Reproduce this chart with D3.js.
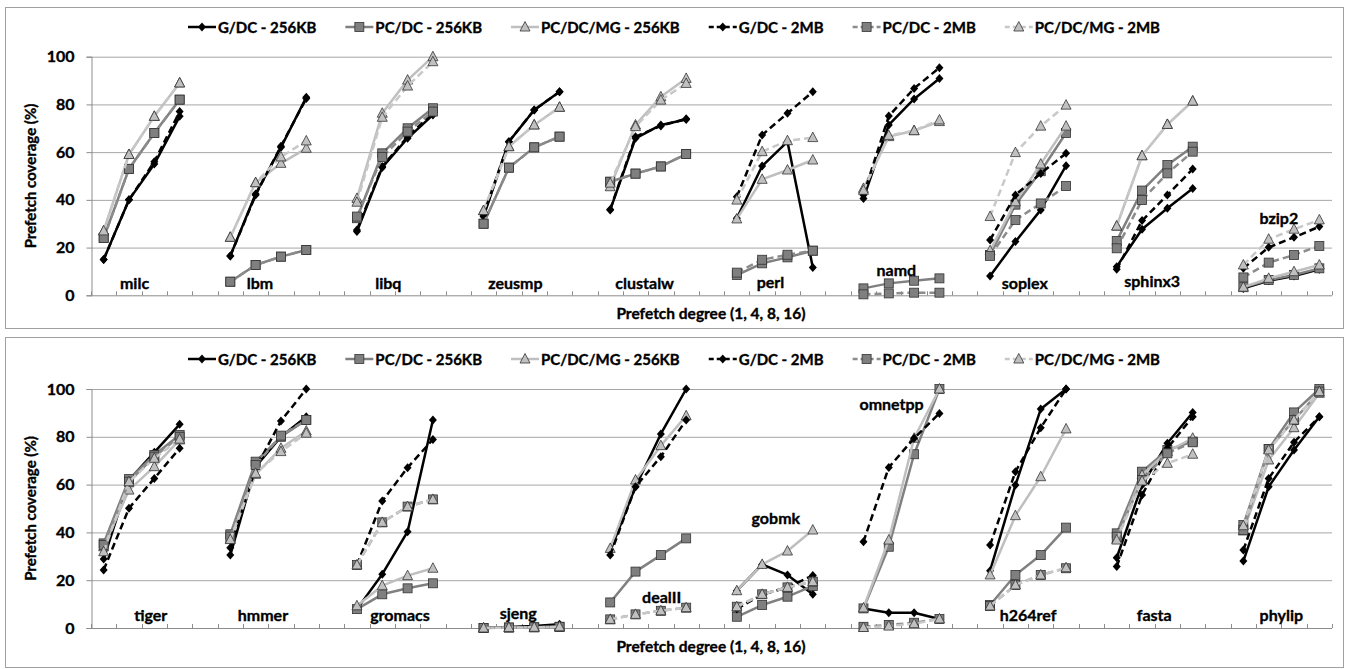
<!DOCTYPE html>
<html lang="en">
<head>
  <meta charset="UTF-8">
  <title>Prefetch coverage</title>
  <script src="https://d3js.org/d3.v7.min.js"></script>
  <style>
    body { margin: 0; background: #fff; }
    svg { font-family: Lato, "Open Sans", sans-serif; font-weight: bold; }
    svg text { stroke: #000; stroke-width: 0.35px; fill: #000; }
  </style>
</head>
<body>
  <svg width="1349" height="669"></svg>
  <script>
    const degrees = [1, 4, 8, 16];
    const seriesNames = ["G/DC - 256KB", "PC/DC - 256KB", "PC/DC/MG - 256KB",
                         "G/DC - 2MB", "PC/DC - 2MB", "PC/DC/MG - 2MB"];
    const yTicks = [0, 20, 40, 60, 80, 100];

    // top panel
    const topBench = ["milc", "lbm", "libq", "zeusmp", "clustalw", "perl", "namd", "soplex", "sphinx3", "bzip2"];
    const topGDC256 = [[15, 40, 55, 75], [16.5, 42.5, 62, 83], [26.7, 53.6, 65.8, 75.6], [33, 64.4, 77.7, 85.3],
      [35.8, 65.8, 71.4, 73.7], [32.3, 54.2, 64.4, 11.7], [40.6, 71.4, 82.3, 90.9], [8.1, 22.5, 35.8, 54.3],
      [12, 27.7, 36.5, 44.8], [2.9, 6.1, 8.1, 10.9]];
    const topPCDC256 = [[24, 53, 68, 82], [5.7, 12.7, 16.2, 19], [32.3, 59.5, 70, 78.4], [30, 53.5, 62, 66.5],
      [47.6, 51, 54, 59.2], [8.5, 13.4, 15.9, 18.7], [2.9, 5, 6.1, 7.1], [16.9, 38, 52, 68],
      [22.8, 43.9, 54.6, 62.3], [3.4, 6.4, 8.5, 11.3]];
    const topMG256 = [[27, 59, 75, 89], [24.3, 47.2, 55.3, 61.6], [40.6, 76.3, 90.2, 100], [35.5, 62.3, 71.4, 78.8],
      [45.5, 71.4, 83.2, 90.9], [32, 48.6, 52.5, 56.7], [44.8, 66.5, 69, 72.8], [18.7, 39.2, 55, 70.9],
      [29, 58.5, 71.6, 81.4], [3.4, 7.1, 9.9, 12.7]];
    const topGDC2M = [[15, 40, 56, 77], [16.5, 42, 62.5, 82.5], [27.4, 54, 66.5, 76.3], [33.7, 64.4, 77.7, 85.3],
      [36, 66.5, 71, 74], [41.3, 67.2, 76.3, 85.3], [42, 75.1, 86.7, 95.4], [23.2, 42, 51.1, 59.5],
      [10.9, 31.3, 42, 52.9], [11.3, 20.1, 24.3, 28.8]];
    const topPCDC2M = [[24, 53, 68, 82], [5.7, 12.7, 16.2, 19], [33, 58, 68.6, 77], [30, 53.5, 62, 66.5],
      [47.6, 51, 54, 59.2], [9.5, 14.9, 17, 18.7], [0.4, 0.8, 1.1, 1.1], [16.5, 31.6, 38.5, 45.8],
      [19.7, 39.9, 51.1, 60.2], [7.5, 13.7, 16.9, 20.7]];
    const topMG2M = [[27, 59, 75, 89], [24.3, 47.2, 58, 64.7], [39, 74.6, 87.7, 97.9], [35.5, 62.3, 71.4, 78.8],
      [47, 70.7, 81.8, 88.8], [39.9, 60.2, 64.8, 66.1], [44, 67, 69, 73.5], [33, 59.8, 70.9, 79.7],
      [29, 58.5, 71.6, 81.4], [12.7, 23.5, 27.7, 31.6]];
    // benchmark label anchors: [shift in categories, value]
    const topLabelAt = [[-0.28, 5.2], [-0.33, 5.2], [-0.26, 5.2], [-0.24, 5.2], [-0.14, 5.2],
      [-0.17, 5.7], [-0.2, 11], [-0.13, 5.2], [-0.1, 6], [-0.1, 32.4]];

    // bottom panel
    const botBench = ["tiger", "hmmer", "gromacs", "sjeng", "dealII", "gobmk", "omnetpp", "h264ref", "fasta", "phylip"];
    const botGDC256 = [[28.9, 61.9, 73.5, 85.2], [30.5, 67.5, 80, 88.4], [7.9, 22.5, 40.3, 87], [0, 0.4, 0.8, 1.6],
      [32.2, 59.1, 81.2, 100], [15.6, 26.6, 22.2, 14.1], [8.2, 6.4, 6.4, 3.8], [24, 59.8, 91.6, 100],
      [29.4, 59.8, 77.3, 90.2], [28, 59.1, 74.5, 88.4]];
    const botPCDC256 = [[35.4, 62.3, 72.4, 80.8], [39.2, 69.6, 80, 87], [7.9, 14.1, 16.6, 18.7], [0, 0.2, 0.3, 0.5],
      [10.7, 23.6, 30.5, 37.5], [4.7, 9.6, 13.1, 17.6], [8.2, 34, 72.7, 100], [9.6, 22.2, 30.5, 42],
      [39.6, 65.4, 74.5, 78], [43.1, 74.9, 90.2, 100]];
    const botMG256 = [[34, 57.7, 67.5, 78.7], [37.2, 64.3, 75.2, 82.4], [9.3, 17.7, 21.9, 25], [0, 0.2, 0.3, 0.5],
      [33.3, 61.9, 76.3, 88.8], [15.6, 26.6, 32.2, 41], [8.4, 36.8, 79.4, 100], [22.2, 47, 63.3, 83.3],
      [37.2, 64, 73.8, 79.4], [40.6, 70.3, 83.8, 98.2]];
    const botGDC2M = [[24.3, 50.1, 62.6, 75.2], [33.6, 66.8, 86.6, 100], [26.4, 53.1, 67.1, 78.9], [0, 0.3, 0.5, 1],
      [30.5, 59.1, 71.7, 87], [8, 14, 17, 22], [36.1, 67.2, 79.4, 89.8], [34.7, 65.4, 83.8, 100],
      [25.7, 55.6, 75.2, 88.4], [32.6, 62.6, 77.7, 88.4]];
    const botPCDC2M = [[34.7, 61.2, 71.7, 80], [38.2, 68.2, 80.5, 87], [26.4, 44.2, 50.8, 53.8], [0, 0.2, 0.3, 0.5],
      [3.6, 5.7, 7.2, 8.5], [8.9, 14.1, 17, 19.4], [0.5, 1.3, 2.2, 3.8], [9.2, 18, 22.2, 25],
      [38.2, 61.9, 73.1, 77.7], [41, 74.9, 87, 98.9]];
    const botMG2M = [[31.9, 61.2, 71, 79], [37, 64.7, 73.8, 81.5], [26.4, 44.2, 50.8, 53.8], [0, 0.2, 0.3, 0.5],
      [3.6, 5.7, 7.2, 8.5], [8.9, 14.1, 17, 19.4], [0.2, 0.8, 1.8, 3.8], [9.2, 18, 22.2, 25.2],
      [36.8, 61.5, 68.9, 72.7], [42.8, 74.5, 87, 98.9]];
    const botLabelAt = [[0.36, 5.7], [-0.21, 5.7], [0.2, 5.7], [-0.13, 6.4], [0.53, 13.1],
      [0.04, 46.2], [-0.39, 94], [0, 5.7], [-0.02, 5.7], [0, 5.7]];

    const svg = d3.select("svg");

    const styles = [
      { color: "#000", dash: null, mark: "diamond" },
      { color: "#808080", dash: null, mark: "square" },
      { color: "#bfbfbf", dash: null, mark: "triangle" },
      { color: "#000", dash: "7,4", mark: "diamond" },
      { color: "#8c8c8c", dash: "7,4", mark: "square" },
      { color: "#c8c8c8", dash: "7,4", mark: "triangle" }
    ];

    function drawMarker(g, kind, x, y) {
      if (kind === "diamond") {
        g.append("path").attr("d", `M${x},${y - 4.5}L${x + 4},${y}L${x},${y + 4.5}L${x - 4},${y}Z`)
          .attr("fill", "#000");
      } else if (kind === "square") {
        g.append("rect").attr("x", x - 4.5).attr("y", y - 4.5).attr("width", 9).attr("height", 9)
          .attr("fill", "#7f7f7f").attr("stroke", "#333").attr("stroke-width", 0.8);
      } else {
        g.append("path").attr("d", `M${x},${y - 5.5}L${x + 5},${y + 4}L${x - 5},${y + 4}Z`)
          .attr("fill", "#c0c0c0").attr("stroke", "#333").attr("stroke-width", 0.8);
      }
    }

    const nCat = 49;
    const x = d3.scaleBand().domain(d3.range(nCat)).range([91, 1332]);
    const xc = i => x(i) + x.bandwidth() / 2;

    function drawPanel(p) {
      const g = svg.append("g");
      g.append("rect").attr("x", 5.5).attr("y", p.frameTop + 0.5)
        .attr("width", 1338).attr("height", p.frameBottom - p.frameTop)
        .attr("fill", "#fff").attr("stroke", "#a0a0a0");

      const y = d3.scaleLinear().domain([0, 100]).range([p.y0, p.y100]);

      // grid
      g.append("g").selectAll("line").data(yTicks.slice(1)).join("line")
        .attr("x1", 91).attr("x2", 1332)
        .attr("y1", d => y(d) + 0.5).attr("y2", d => y(d) + 0.5)
        .attr("stroke", "#a6a6a6").attr("stroke-width", 1);

      // y axis
      const ya = g.append("g").attr("transform", "translate(91.5,0)")
        .call(d3.axisLeft(y).tickValues(yTicks).tickSize(5).tickPadding(12));
      ya.select(".domain").attr("stroke", "#8c8c8c");
      ya.selectAll(".tick line").attr("stroke", "#8c8c8c");
      ya.selectAll(".tick text").attr("font-size", 16).attr("font-weight", "bold")
        .attr("fill", "#000").attr("font-family", "Lato, sans-serif");

      // x axis with ticks at category boundaries
      g.append("line").attr("x1", 91).attr("x2", 1332)
        .attr("y1", p.y0 + 0.5).attr("y2", p.y0 + 0.5).attr("stroke", "#8c8c8c");
      g.append("g").selectAll("line").data(d3.range(nCat + 1)).join("line")
        .attr("x1", i => Math.round(91 + i * x.step()) + 0.5)
        .attr("x2", i => Math.round(91 + i * x.step()) + 0.5)
        .attr("y1", p.y0 - 4).attr("y2", p.y0)
        .attr("stroke", "#8c8c8c");

      // series
      p.series.forEach((vals, s) => {
        const st = styles[s];
        const sg = g.append("g");
        vals.forEach((grp, b) => {
          const pts = grp.map((v, d) => [xc(b * 5 + d), y(v)]);
          sg.append("path").attr("d", d3.line()(pts))
            .attr("fill", "none").attr("stroke", st.color).attr("stroke-width", 2.5)
            .attr("stroke-dasharray", st.dash).attr("stroke-linejoin", "round");
        });
        vals.forEach((grp, b) => {
          grp.forEach((v, d) => drawMarker(sg, st.mark, xc(b * 5 + d), y(v)));
        });
      });

      // benchmark labels
      g.append("g").selectAll("text").data(p.bench).join("text")
        .attr("x", (d, i) => xc(i * 5) + (1.5 + p.labelAt[i][0]) * x.step())
        .attr("y", (d, i) => y(p.labelAt[i][1]))
        .attr("text-anchor", "middle").attr("dominant-baseline", "central")
        .attr("font-size", 16).text(d => d);

      // axis titles
      g.append("text").attr("transform", `translate(30,${(p.y0 + p.y100) / 2}) rotate(-90)`)
        .attr("text-anchor", "middle").attr("dominant-baseline", "central")
        .attr("font-size", 15).text("Prefetch coverage (%)");
      g.append("text").attr("x", 711).attr("y", p.y0 + 18)
        .attr("text-anchor", "middle").attr("dominant-baseline", "central")
        .attr("font-size", 15.5).text("Prefetch degree (1, 4, 8, 16)");

      // legend
      const lg = g.append("g");
      let cx = 0;
      seriesNames.forEach((name, s) => {
        const st = styles[s];
        const it = lg.append("g").attr("transform", `translate(${cx},0)`);
        it.append("line").attr("x1", 0).attr("x2", 28).attr("y1", 0).attr("y2", 0)
          .attr("stroke", st.color).attr("stroke-width", 2.5).attr("stroke-dasharray", st.dash ? "5,3" : null);
        drawMarker(it, st.mark, 14, 0);
        const t = it.append("text").attr("x", 30).attr("y", 0).attr("dominant-baseline", "central")
          .attr("font-size", 15).text(name);
        cx += 30 + t.node().getComputedTextLength() + 29;
      });
      const lw = cx - 29;
      lg.attr("transform", `translate(${674 - lw / 2},${p.legendY})`);
    }

    drawPanel({
      frameTop: 7, frameBottom: 328, y0: 295.3, y100: 56.7, legendY: 27,
      bench: topBench, labelAt: topLabelAt,
      series: [topGDC256, topPCDC256, topMG256, topGDC2M, topPCDC2M, topMG2M]
    });
    drawPanel({
      frameTop: 337, frameBottom: 667, y0: 628, y100: 389, legendY: 359,
      bench: botBench, labelAt: botLabelAt,
      series: [botGDC256, botPCDC256, botMG256, botGDC2M, botPCDC2M, botMG2M]
    });
  </script>
</body>
</html>
